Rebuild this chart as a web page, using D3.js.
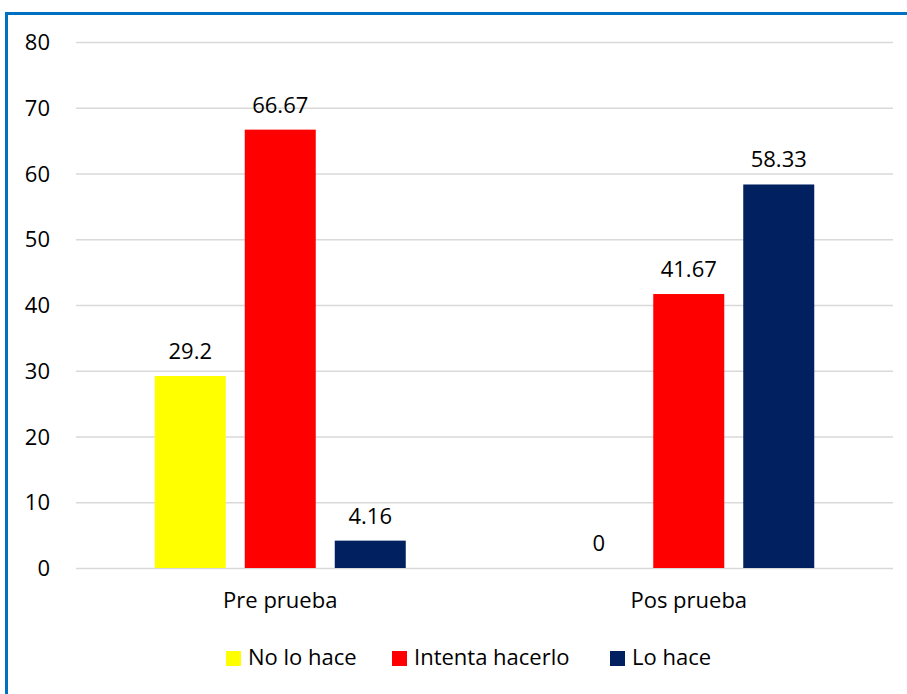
<!DOCTYPE html>
<html><head><meta charset="utf-8">
<script src="https://cdn.jsdelivr.net/npm/d3@7"></script>
<style>html,body{margin:0;padding:0;background:#fff;}svg{display:block;font-family:"Open Sans","Noto Sans",sans-serif;}</style>
</head><body>
<svg id="c" width="907" height="694"></svg>
<script>
const categories = ["Pre prueba", "Pos prueba"];
const seriesNames = ["No lo hace", "Intenta hacerlo", "Lo hace"];
const noLoHace = [29.2, 0];
const intentaHacerlo = [66.67, 41.67];
const loHace = [4.16, 58.33];
const valueLabels = [["29.2", "0"], ["66.67", "41.67"], ["4.16", "58.33"]];
const yTicks = [0, 10, 20, 30, 40, 50, 60, 70, 80];
const colors = ["#FFFF00", "#FF0000", "#002060"];

(function(){
const series = [noLoHace, intentaHacerlo, loHace];
const svg = d3.select("#c");
const pL = 76, pR = 893, pT = 42, pB = 568;
const fs = 22;

// border
svg.append("path").attr("d", `M6.5,694 V13.5 H907`).attr("fill","none").attr("stroke","#0070C0").attr("stroke-width",3);

const y = d3.scaleLinear().domain([0, 80]).range([pB, pT]);
const x0 = d3.scaleBand().domain(categories).range([pL, pR]).paddingInner(0).paddingOuter(0);
const inner = 3*71 + 2*19;
const off = (x0.bandwidth() - inner) / 2;
const x1 = d3.scaleBand().domain(d3.range(3)).range([off, off + inner]).paddingInner(19/90).paddingOuter(0);

// gridlines
svg.append("g").selectAll("line").data(yTicks).join("line")
  .attr("x1", pL).attr("x2", pR).attr("y1", d => y(d)+0.5).attr("y2", d => y(d)+0.5)
  .attr("stroke", "#D9D9D9").attr("stroke-width", 1.5);

// y axis labels
const yAxis = d3.axisLeft(y).tickValues(yTicks).tickSize(0).tickPadding(0);
const ga = svg.append("g").attr("transform", `translate(${pL - 26},0)`).call(yAxis);
ga.select(".domain").remove();
ga.selectAll("text").attr("font-size", fs).attr("fill", "#000").attr("text-anchor","end")
  .attr("font-family", '"Open Sans","Noto Sans",sans-serif').attr("dy","0.35em");

// bars
const g = svg.append("g");
series.forEach((vals, si) => {
  categories.forEach((cat, ci) => {
    const v = vals[ci];
    const bx = x0(cat) + x1(si);
    g.append("rect").attr("x", bx).attr("y", y(v)).attr("width", x1.bandwidth()).attr("height", y(0) - y(v))
      .attr("fill", colors[si]);
    g.append("text").attr("x", bx + x1.bandwidth()/2).attr("y", y(v) - 17)
      .attr("text-anchor","middle").attr("font-size", fs).attr("fill","#000")
      .text(valueLabels[si][ci]);
  });
});

// category labels
svg.append("g").selectAll("text").data(categories).join("text")
  .attr("x", d => x0(d) + x0.bandwidth()/2).attr("y", 608)
  .attr("text-anchor","middle").attr("font-size", fs).attr("fill","#000").text(d => d);

// legend
const legX = [226, 392, 610];
const lg = svg.append("g");
seriesNames.forEach((n, i) => {
  lg.append("rect").attr("x", legX[i]).attr("y", 651).attr("width", 15).attr("height", 15).attr("fill", colors[i]);
  lg.append("text").attr("x", legX[i] + 22).attr("y", 665).attr("font-size", fs).attr("fill","#000").text(n);
});
})();
</script>
</body></html>
